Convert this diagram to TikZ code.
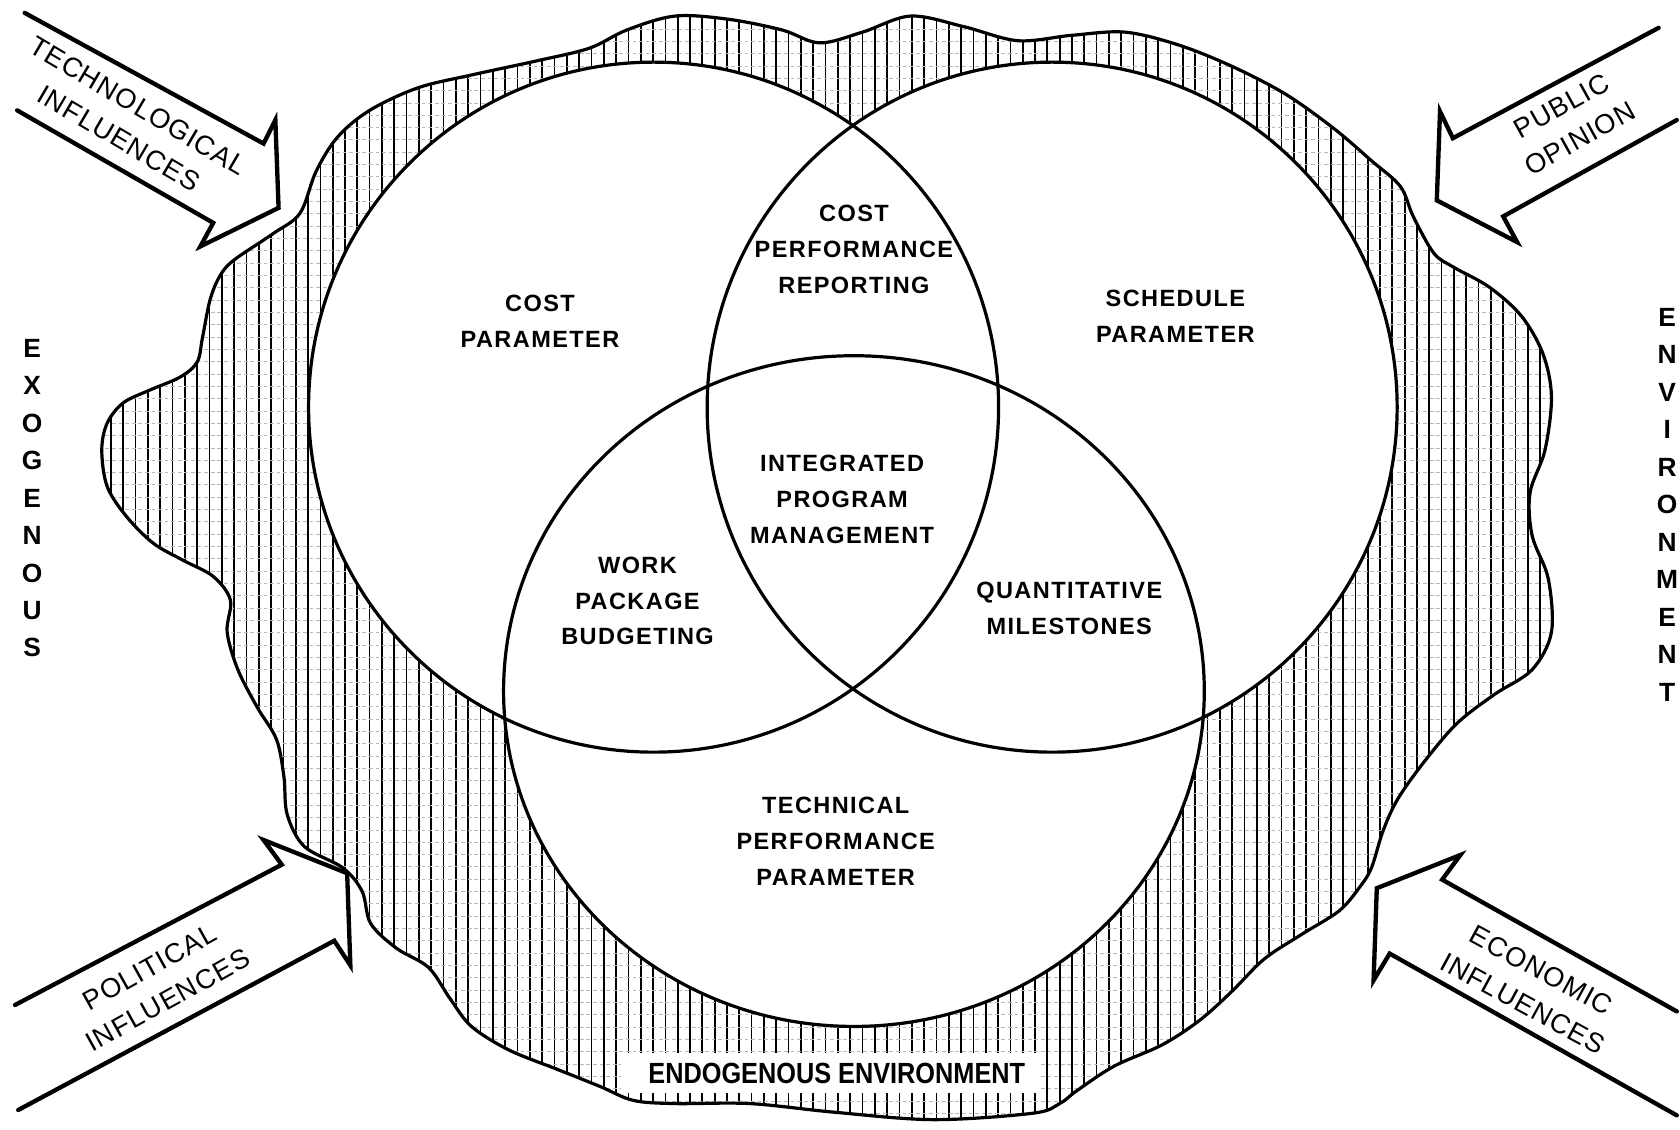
\documentclass[tikz,border=0pt]{standalone}
\usepackage{fontspec}
\setmainfont{Liberation Sans}
\newfontfamily\lblfont[LetterSpace=6]{Liberation Sans}
\newfontfamily\arrfont[LetterSpace=4]{Liberation Sans}
\def\blobpath{plot[smooth cycle, tension=0.55] coordinates {
(218,243) (255,218) (280,199) (295,160) (315,128) (345,103) (390,82) (440,70) (500,57) (550,45) (585,28) (630,15) (680,18) (730,28) (765,40) (805,30) (850,15) (900,25) (950,38) (1000,33) (1050,30) (1100,42) (1150,62) (1200,88) (1245,120) (1280,150) (1307,174) (1319,202) (1338,236) (1356,249) (1390,268) (1420,295) (1440,330) (1448,370) (1442,420) (1428,460) (1430,500) (1445,540) (1448,590) (1430,625) (1395,648) (1360,675) (1330,710) (1305,745) (1291,775) (1280,810) (1269,828) (1250,850) (1215,872) (1180,895) (1150,925) (1120,952) (1085,975) (1040,995) (1005,1018) (989,1030) (964,1039) (871,1045) (778,1038) (700,1030) (630,1030) (591,1027) (560,1014) (520,998) (475,980) (440,958) (420,932) (400,903) (370,885) (346,862) (338,832) (320,810) (284,790) (268,760) (265,725) (258,690) (240,660) (222,625) (212,590) (215,560) (199,538) (171,523) (143,507) (118,482) (100,454) (95,420) (100,395) (115,376) (140,364) (168,352) (184,338) (189,315) (196,280) (205,258)}}
\def\techA{(16,103) -- (199,208) -- (187,230) -- (260,194) -- (257,112) -- (246,134) -- (23,12)}
\def\pubA{(1565,112) -- (1403,202) -- (1416,226) -- (1341,187) -- (1344,104) -- (1356,129) -- (1548,26)}
\def\polA{(14,938) -- (263,807) -- (246,784) -- (324,815) -- (327,901) -- (312,878) -- (17,1036)}
\def\ecoA{(1565,944) -- (1346,821) -- (1363,798) -- (1285,829) -- (1282,915) -- (1297,890) -- (1565,1041)}
\begin{document}
\begin{tikzpicture}[x=0.02cm,y=-0.02cm,
  outline/.style={line width=1.7pt},
  hatch/.style={line width=0.9pt},
  hdash/.style={line width=0.35pt, gray!55, dash pattern=on 2pt off 1.5pt},
  arrowline/.style={line width=2.3pt, line join=miter, line cap=round},
  lbl/.style={font=\lblfont\bfseries\fontsize{12.5}{19}\selectfont, align=center, inner sep=0pt},
  arrlbl/.style={font=\arrfont\fontsize{14.5}{20}\selectfont, align=center, inner sep=0pt},
  vert/.style={font=\bfseries\fontsize{14}{19.9}\selectfont, align=center, inner sep=0pt}
]
\useasboundingbox (0,0) rectangle (1568,1054);
% hatched environment
\begin{scope}
  \clip \blobpath;
  \foreach \i in {0,...,136} { \draw[hatch] ({\i*11.5},0) -- ({\i*11.5},1054); }
  \foreach \i in {0,...,92} { \draw[hdash] (0,{\i*11.5+4}) -- (1568,{\i*11.5+4}); }
\end{scope}
\fill[white] (610,380) circle[radius=322];
\fill[white] (982,380) circle[radius=322];
\fill[white] (797,645) ellipse[x radius=327, y radius=313];
\fill[white] (580,983) rectangle (971,1020);
\draw[outline] \blobpath;
\draw[outline] (610,380) circle[radius=322];
\draw[outline] (982,380) circle[radius=322];
\draw[outline] (797,645) ellipse[x radius=327, y radius=313];
% arrows
\fill[white] \techA -- cycle;
\fill[white] \pubA -- cycle;
\fill[white] \polA -- cycle;
\fill[white] \ecoA -- cycle;
\draw[arrowline] \techA;
\draw[arrowline] \pubA;
\draw[arrowline] \polA;
\draw[arrowline] \ecoA;
% arrow labels
\node[arrlbl, rotate=-30.5] (tech) at (120,114) {TECHNOLOGICAL\\INFLUENCES};
\node[arrlbl, rotate=29] (pub) at (1466,114) {PUBLIC\\OPINION};
\node[arrlbl, rotate=29] (pol) at (148,918) {POLITICAL\\INFLUENCES};
\node[arrlbl, rotate=-28.5] (eco) at (1430,921) {ECONOMIC\\INFLUENCES};
% inner labels
\node[lbl] (cpr) at (797,233) {COST\\PERFORMANCE\\REPORTING};
\node[lbl] (cost) at (504,300) {COST\\PARAMETER};
\node[lbl] (sched) at (1097,295) {SCHEDULE\\PARAMETER};
\node[lbl] (ipm) at (786,466) {INTEGRATED\\PROGRAM\\MANAGEMENT};
\node[lbl] (wpb) at (595,561) {WORK\\PACKAGE\\BUDGETING};
\node[lbl] (qm) at (998,568) {QUANTITATIVE\\MILESTONES};
\node[lbl] (tpp) at (780,785) {TECHNICAL\\PERFORMANCE\\PARAMETER};
% environment labels
\node[vert] (exo) at (30,465) {E\\X\\O\\G\\E\\N\\O\\U\\S};
\node[vert] (env) at (1556,471) {E\\N\\V\\I\\R\\O\\N\\M\\E\\N\\T};
\node[font=\bfseries\fontsize{15.5}{18}\selectfont, inner sep=0pt, xscale=0.867] (endo) at (781,1002) {ENDOGENOUS ENVIRONMENT};
\end{tikzpicture}
\end{document}
